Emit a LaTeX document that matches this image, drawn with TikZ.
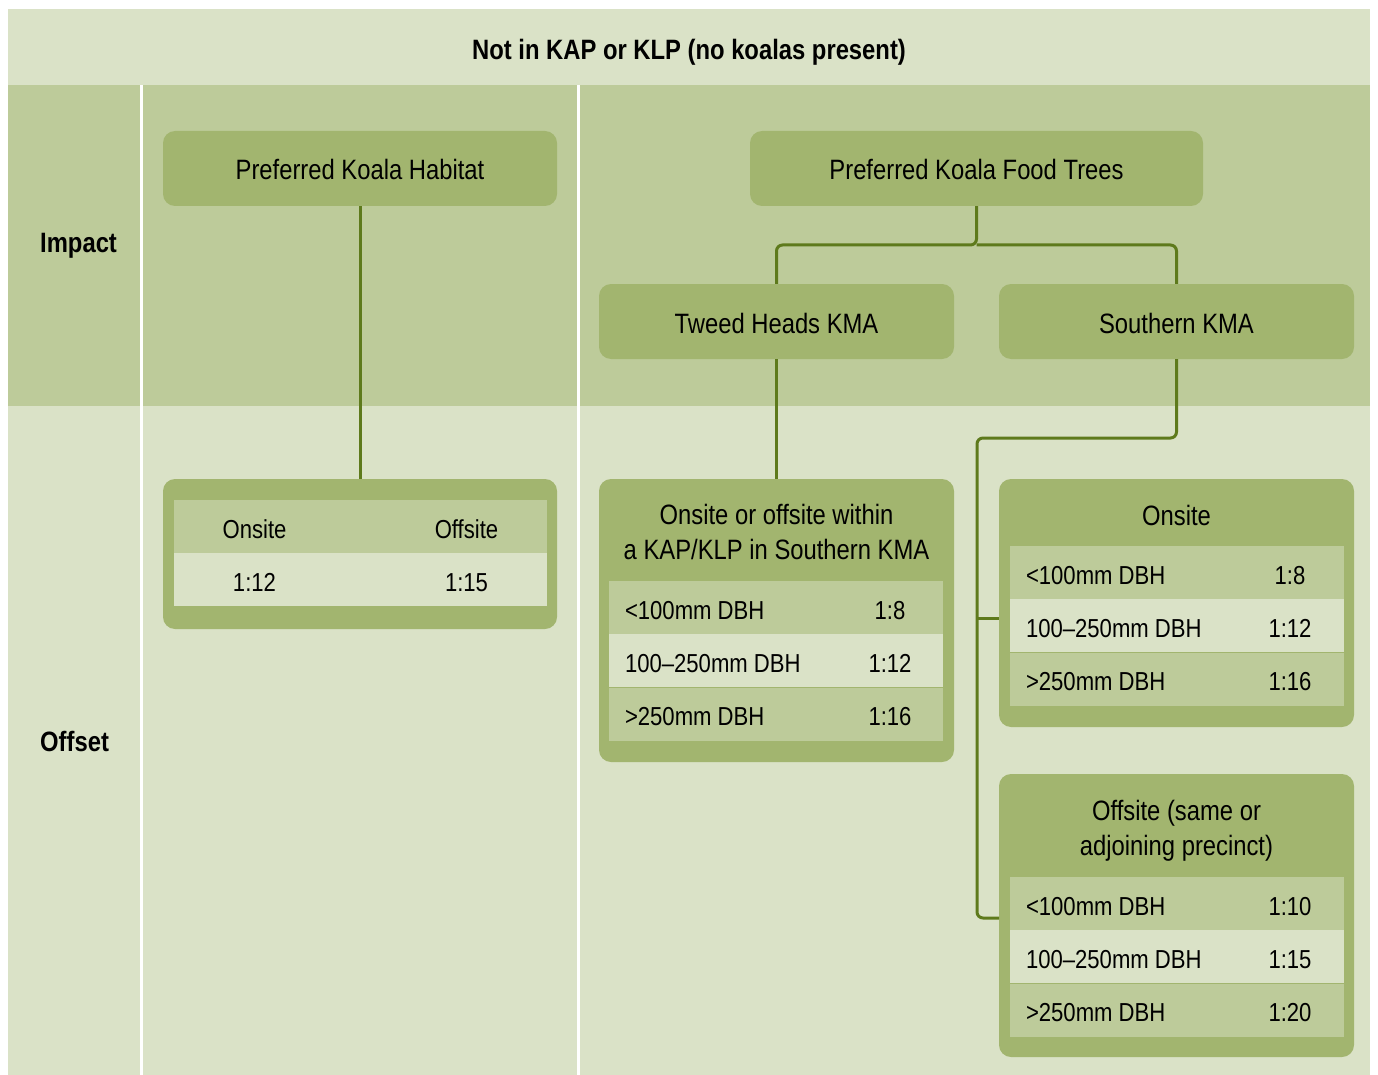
\documentclass[tikz,border=0pt]{standalone}
\usepackage{fontspec}
\setmainfont{Liberation Sans}[FakeStretch=0.85]
\usetikzlibrary{positioning}
\definecolor{paleg}{HTML}{DAE2C7}
\definecolor{midg}{HTML}{BDCB9A}
\definecolor{boxg}{HTML}{A2B56F}
\definecolor{lineg}{HTML}{5E7A1C}

\begin{document}
\begin{tikzpicture}[x=1pt, y=-1pt, link/.style={draw=lineg,line width=3pt,rounded corners=6pt}, head/.style={rectangle,fill=boxg,rounded corners=12pt,minimum width=355pt,minimum height=75pt,text height=23pt,text depth=0pt,font=\fontsize{28}{34}\selectfont}, panel/.style={rectangle,fill=boxg,rounded corners=12pt,minimum width=355pt}, band/.style={rectangle,fill=midg,minimum width=334pt,minimum height=53pt,inner sep=0pt}, lite/.style={band,fill=paleg}, cell/.style={inner sep=0pt,text height=23pt,text depth=0pt,font=\fontsize{26}{31}\selectfont}, boxtitle/.style={align=center,inner sep=0pt,font=\fontsize{28}{35}\selectfont}, side/.style={anchor=west,inner sep=0pt,font=\bfseries\fontsize{28}{34}\selectfont}]
\useasboundingbox (0,0) rectangle (1378,1075);
\fill[white] (0,0) rectangle (1378,1075);
\fill[paleg] (8,9) rectangle (1370,1075);
\fill[midg] (8,85) rectangle (1370,406);
\draw[white,line width=3pt] (141,85) -- (141,1075) (578,85) -- (578,1075);
% row and column headings
\node[font=\bfseries\fontsize{28}{34}\selectfont] (title) at (689,52) {Not in KAP or KLP (no koalas present)};
\node[side] (impact) at (40,246) {Impact};
\node[side] (offset) at (40,741) {Offset};
% impact boxes
\node[head,minimum width=394pt] (habitat) at (360,168.5) {Preferred Koala Habitat};
\node[head,minimum width=453pt] (food) at (976.5,168.5) {Preferred Koala Food Trees};
\node[head] (tweed) at (776.5,321.5) {Tweed Heads KMA};
\node[head] (southern) at (1176.5,321.5) {Southern KMA};
% habitat offsets
\node[panel,minimum width=394pt,minimum height=150pt] (habbox) at (360,554) {};
\node[band,minimum width=373pt] (hab1) at (360.5,526.5) {};
\node[lite,minimum width=373pt,below=0pt of hab1] (hab2) {};
\node[cell] at ([xshift=-106pt]hab1.center) {Onsite};
\node[cell] at ([xshift=106pt]hab1.center) {Offsite};
\node[cell] at ([xshift=-106pt]hab2.center) {1:12};
\node[cell] at ([xshift=106pt]hab2.center) {1:15};
% tweed heads offsets
\node[panel,minimum height=283pt] (twbox) at (776.5,620.5) {};
\node[boxtitle] (twtitle) at (776.5,532) {Onsite or offsite within\\a KAP/KLP in Southern KMA};
\node[band] (tw1) at (776,607.5) {};
\node[lite,below=0pt of tw1] (tw2) {};
\node[band,below=0pt of tw2] (tw3) {};
\node[cell,anchor=west] at ([xshift=16pt]tw1.west) {<100mm DBH};
\node[cell,anchor=west] at ([xshift=16pt]tw2.west) {100–250mm DBH};
\node[cell,anchor=west] at ([xshift=16pt]tw3.west) {>250mm DBH};
\node[cell] at ([xshift=114pt]tw1.center) {1:8};
\node[cell] at ([xshift=114pt]tw2.center) {1:12};
\node[cell] at ([xshift=114pt]tw3.center) {1:16};
% southern onsite
\node[panel,minimum height=248pt] (onbox) at (1176.5,603) {};
\node[boxtitle] (ontitle) at (1176.5,515) {Onsite};
\node[band] (on1) at (1177,572.5) {};
\node[lite,below=0pt of on1] (on2) {};
\node[band,below=0pt of on2] (on3) {};
\node[cell,anchor=west] at ([xshift=16pt]on1.west) {<100mm DBH};
\node[cell,anchor=west] at ([xshift=16pt]on2.west) {100–250mm DBH};
\node[cell,anchor=west] at ([xshift=16pt]on3.west) {>250mm DBH};
\node[cell] at ([xshift=113pt]on1.center) {1:8};
\node[cell] at ([xshift=113pt]on2.center) {1:12};
\node[cell] at ([xshift=113pt]on3.center) {1:16};
% southern offsite
\node[panel,minimum height=283pt] (offbox) at (1176.5,915.5) {};
\node[boxtitle] (offtitle) at (1176.5,831) {Offsite (same or\\adjoining precinct)};
\node[band] (of1) at (1177,903.5) {};
\node[lite,below=0pt of of1] (of2) {};
\node[band,below=0pt of of2] (of3) {};
\node[cell,anchor=west] at ([xshift=16pt]of1.west) {<100mm DBH};
\node[cell,anchor=west] at ([xshift=16pt]of2.west) {100–250mm DBH};
\node[cell,anchor=west] at ([xshift=16pt]of3.west) {>250mm DBH};
\node[cell] at ([xshift=113pt]of1.center) {1:10};
\node[cell] at ([xshift=113pt]of2.center) {1:15};
\node[cell] at ([xshift=113pt]of3.center) {1:20};
% connectors
\coordinate (fork) at (976.5,245);
\coordinate (bend) at (977,438);
\coordinate (onjoin) at (999,618);
\coordinate (offjoin) at (999,918);
\draw[link] (habitat.south) -- (habbox.north);
\draw[link] (food.south) -- (fork) -| (tweed.north);
\draw[link] (fork) -| (southern.north);
\draw[link] (tweed.south) -- (twbox.north);
\draw[link] (southern.south) |- (bend) |- (offjoin);
\draw[link] (bend |- onjoin) -- (onjoin);
\end{tikzpicture}
\end{document}
